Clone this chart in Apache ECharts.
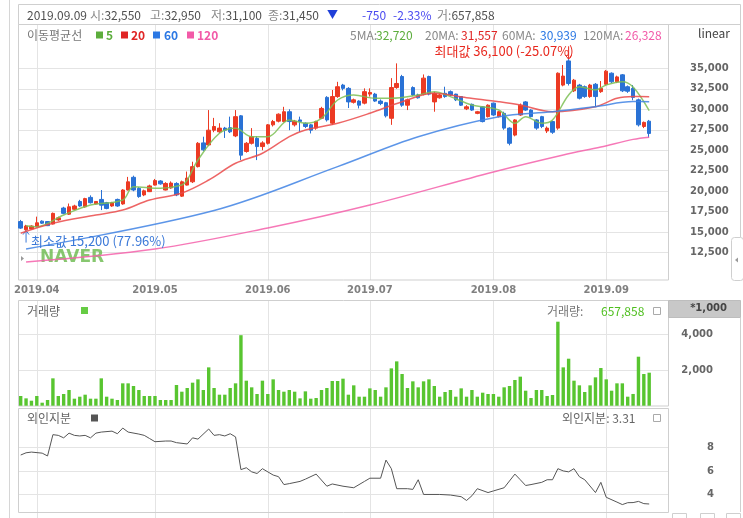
<!DOCTYPE html>
<html>
<head>
<meta charset="utf-8">
<title>NAVER 일봉 차트</title>
<script src="https://cdn.jsdelivr.net/npm/echarts@6/dist/echarts.min.js"></script>
<style>
  html, body { margin: 0; padding: 0; background: #fff; }
  #chartMain { width: 743px; height: 518px; }
</style>
</head>
<body>
<div id="chartMain"></div>
<script>
  // trading calendar
  const firstDay = '2019-03-27';
  const lastDay = '2019-09-16';
  const holidays = ['2019-05-01', '2019-05-06', '2019-06-06', '2019-08-15', '2019-09-12', '2019-09-13'];

  // daily prices (KRW), one entry per trading day
  const openPrices = [16300, 15300, 15400, 15700, 16350, 16300, 16000, 16500, 17950, 17200,
    17800, 18750, 18100, 19250, 18450, 19000, 18600, 18200, 19000, 18450,
    20150, 21700, 20350, 19550, 19950, 20750, 21250, 20150, 20400, 20950,
    19400, 20750, 21150, 23000, 25900, 25650, 27450, 27250, 27700, 27750,
    26750, 29200, 24850, 25850, 26450, 25450, 25850, 28100, 28550, 28500,
    29700, 28100, 28700, 28300, 28100, 27700, 28900, 31450, 28300, 31550,
    32950, 32550, 30850, 31000, 30750, 31850, 31850, 31000, 30800, 28900,
    32650, 34000, 30500, 32650, 31750, 31850, 34000, 30900, 31400, 31950,
    32150, 31850, 31550, 30050, 30600, 29500, 30300, 29100, 30750, 29100,
    29500, 27700, 26850, 29300, 30900, 29900, 28700, 29100, 27350, 28500,
    27700, 32950, 35900, 32250, 32950, 32750, 31550, 33050, 32150, 33050,
    34400, 33350, 34200, 32750, 32550, 31150, 27900, 28550];
  const closePrices = [15500, 15750, 15750, 16150, 16100, 15800, 17300, 16750, 17300, 18100,
    18200, 18200, 19100, 18600, 18750, 18300, 17900, 18600, 18200, 20150,
    21150, 20150, 19350, 20050, 20650, 21300, 20900, 20950, 21000, 19550,
    21150, 21600, 23000, 25850, 25050, 27450, 27900, 27700, 27450, 27250,
    29100, 24400, 25850, 26650, 25450, 25900, 28100, 28500, 29400, 29700,
    28500, 28550, 28500, 27900, 27450, 28500, 30100, 28700, 31550, 32750,
    32550, 30900, 31150, 30500, 32150, 32050, 31000, 30700, 29200, 32650,
    33150, 30500, 31150, 31750, 31400, 33800, 31850, 31950, 31750, 31550,
    31750, 31150, 30500, 30300, 29900, 29700, 28500, 30500, 29300, 29700,
    27700, 25850, 28700, 30500, 29900, 29100, 27700, 27900, 27700, 27200,
    34400, 34050, 33150, 33550, 31350, 31550, 32950, 31550, 32550, 34650,
    33350, 33950, 32250, 32200, 31450, 28100, 28400, 27050];
  const lowPrices = [15400, 15200, 15350, 15600, 16000, 15750, 15950, 16400, 17200, 17100,
    17700, 18100, 18000, 18500, 18400, 17700, 17800, 18100, 18100, 18350,
    20100, 20000, 19200, 19400, 19900, 20700, 20800, 20100, 20300, 19400,
    19300, 20700, 21000, 22900, 24900, 25500, 27200, 27100, 26500, 27100,
    26600, 23800, 24700, 25700, 23800, 25000, 25700, 27900, 28400, 28400,
    27450, 27900, 27250, 27700, 27050, 27500, 28800, 28500, 28100, 31400,
    32300, 30150, 30700, 30100, 30600, 31550, 30900, 30500, 29000, 28100,
    32500, 30300, 29900, 31600, 31300, 31700, 31700, 29700, 31300, 31400,
    31600, 31000, 30400, 29900, 29800, 29400, 28400, 29000, 29200, 29000,
    27500, 25600, 26700, 29200, 29800, 29000, 27500, 27700, 27100, 27000,
    27500, 32800, 32900, 32100, 31200, 31400, 31400, 30300, 32000, 32900,
    33200, 33200, 32100, 32000, 31100, 27900, 27700, 26550];
  const highPrices = [16500, 15900, 15850, 16900, 16450, 16350, 17400, 16900, 18100, 18500,
    18350, 18950, 19200, 19500, 18800, 20150, 18700, 18700, 19100, 20250,
    21750, 21900, 20500, 20200, 20800, 21500, 21350, 21100, 21200, 21100,
    21300, 22400, 23600, 26000, 26650, 29900, 28950, 28300, 27850, 29100,
    29900, 29300, 26000, 27700, 26700, 26100, 28200, 28700, 29500, 30300,
    30000, 28700, 29100, 28400, 28200, 28600, 30300, 31600, 32350, 33350,
    33100, 32700, 31300, 31100, 32550, 32550, 32000, 31200, 30900, 33800,
    35600, 34200, 31300, 32800, 31900, 34250, 34100, 32100, 31900, 32750,
    32300, 31900, 31600, 30500, 30700, 29800, 30400, 30600, 30800, 29800,
    29700, 27800, 28800, 30700, 31000, 30000, 28800, 29200, 27900, 28600,
    34500, 35400, 36100, 33700, 33100, 32900, 33100, 33200, 33450, 34800,
    34500, 34100, 34300, 32900, 32950, 31300, 28500, 28700];

  // 거래량, thousand shares
  const volumes = [543, 412, 280, 543, 168, 318, 1533, 543, 655, 879,
    393, 505, 617, 393, 393, 1533, 505, 393, 318, 1253,
    1253, 1103, 879, 543, 543, 543, 318, 318, 318, 1159,
    785, 991, 1290, 1477, 879, 2148, 991, 617, 617, 991,
    1253, 3950, 1402, 1029, 655, 1402, 655, 1477, 879, 785,
    879, 785, 412, 804, 393, 430, 879, 991, 1384, 1384,
    1514, 617, 1141, 505, 505, 972, 879, 505, 1029, 2092,
    2484, 1775, 991, 1365, 1029, 1365, 1477, 1103, 505, 767,
    879, 505, 972, 505, 879, 505, 729, 655, 655, 505,
    1029, 1103, 1440, 1627, 841, 430, 879, 879, 543, 599,
    4707, 2148, 2633, 1402, 1141, 767, 1141, 1589, 2111, 1477,
    841, 1253, 1253, 505, 658, 2745, 1775, 1850];

  // moving averages: [day index, price]
  const ma5 = [[1, 15800], [3, 15680], [8, 17100], [13, 18320], [19, 18930], [21, 20560], [26, 20360],
    [30, 20760], [31, 21370], [33, 23810], [37, 27070], [40, 27680], [43, 26650], [46, 26650],
    [50, 28690], [53, 28290], [56, 28900], [59, 31130], [62, 31740], [66, 31340], [69, 31340],
    [74, 31740], [77, 32150], [80, 31540], [84, 30520], [89, 29910], [92, 28290], [94, 29100],
    [97, 28290], [99, 28690], [102, 31740], [104, 32750], [107, 32350], [109, 32960], [112, 33370],
    [114, 32720], [117, 29840]];
  const ma20 = [[0, 14870], [6, 16090], [14, 17100], [19, 17710], [24, 18930], [30, 19790], [35, 21370],
    [40, 23410], [45, 24630], [50, 26660], [53, 27470], [59, 28290], [65, 29510], [71, 30920],
    [77, 31950], [83, 31410], [89, 30920], [93, 30520], [99, 29700], [107, 30320], [111, 31340],
    [114, 31557], [117, 31540]];
  const ma60 = [[1, 12960], [36, 17650], [59, 23000], [74, 26650], [89, 29100], [99, 29700],
    [107, 30320], [114, 30939], [117, 30930]];
  const ma120 = [[1, 11370], [25, 12960], [46, 15520], [65, 18320], [88, 22350], [101, 24420],
    [108, 25400], [114, 26328], [117, 26600]];

  // 외인지분 (%): [day index, value]
  const foreignShare = [[0, 7.35], [1, 7.54], [2, 7.60], [4, 7.51], [5, 7.27], [6, 9.08], [7, 9.02],
    [8, 8.81], [9, 9.21], [10, 9.02], [11, 8.97], [12, 9.02], [13, 8.81], [14, 9.21], [15, 9.30],
    [17, 9.38], [18, 9.16], [19, 9.64], [20, 9.30], [22, 9.13], [23, 9.02], [24, 8.75], [25, 8.48],
    [27, 8.54], [28, 8.54], [29, 8.40], [31, 8.29], [32, 8.81], [33, 8.70], [35, 9.56], [36, 9.02],
    [37, 9.08], [38, 8.97], [39, 9.16], [40, 8.89], [41, 6.11], [42, 6.27], [43, 5.92], [44, 5.78],
    [45, 6.19], [47, 5.65], [48, 5.51], [49, 4.84], [50, 4.92], [52, 5.11], [53, 5.30], [55, 5.73],
    [57, 4.70], [58, 4.89], [60, 4.70], [62, 4.57], [64, 5.11], [65, 5.38], [67, 5.38], [68, 6.92],
    [69, 6.19], [70, 4.49], [72, 4.49], [73, 4.43], [74, 5.25], [75, 4.00], [78, 4.00], [80, 3.95],
    [82, 3.81], [83, 3.49], [84, 3.89], [85, 4.49], [87, 4.16], [88, 4.30], [90, 4.57], [92, 5.73],
    [93, 5.25], [94, 4.76], [95, 4.84], [97, 5.03], [98, 5.25], [99, 5.25], [100, 6.19], [101, 6.00],
    [102, 5.92], [103, 6.19], [104, 5.51], [105, 5.25], [107, 4.16], [108, 5.03], [109, 3.76],
    [111, 3.35], [112, 3.14], [113, 3.30], [114, 3.31], [115, 3.41], [116, 3.22], [117, 3.19]];

  function buildTradingDays(from, to, skip) {
    const out = [];
    const d = new Date(from + 'T00:00:00Z');
    const end = new Date(to + 'T00:00:00Z');
    while (d <= end) {
      const iso = d.toISOString().slice(0, 10);
      const wd = d.getUTCDay();
      if (wd !== 0 && wd !== 6 && skip.indexOf(iso) < 0) out.push(iso);
      d.setUTCDate(d.getUTCDate() + 1);
    }
    return out;
  }
  const tradeDates = buildTradingDays(firstDay, lastDay, holidays);
  const categories = tradeDates.concat(['', '', '']);

  function isMonthStart(idx) {
    if (idx <= 0 || idx >= tradeDates.length) return false;
    return tradeDates[idx].slice(5, 7) !== tradeDates[idx - 1].slice(5, 7);
  }

  const KR = "'Noto Sans CJK KR', 'Noto Sans', sans-serif";
  const AX = "'DejaVu Sans', sans-serif";
  const GRIDC = '#e4e4e4';
  const CLEAR = 'rgba(0,0,0,0)';
  const RED = '#ec3a23', BLUE = '#2a72d5';

  function catAxis(gridIndex, extra) {
    return Object.assign({
      type: 'category', gridIndex: gridIndex, data: categories, boundaryGap: true,
      axisLine: {show: false}, axisTick: {show: false}, axisLabel: {show: false},
      splitLine: {show: true, interval: isMonthStart, alignWithLabel: true, lineStyle: {color: GRIDC, width: 1}}
    }, extra || {});
  }

  const candleData = tradeDates.map(function (d, j) {
    return [openPrices[j], closePrices[j], lowPrices[j], highPrices[j]];
  });

  function maSeries(name, data, color) {
    return {
      name: name, type: 'line', xAxisIndex: 1, yAxisIndex: 1, data: data,
      showSymbol: false, smooth: 0.35, z: 3, silent: true,
      lineStyle: {color: color, width: 1.5, opacity: 0.85}
    };
  }

  const chart = echarts.init(document.getElementById('chartMain'));
  chart.setOption({
    animation: false,
    grid: [
      {left: 18, width: 650, top: 24, height: 256},
      {left: 18, width: 650, top: 47.8, height: 225.4},
      {left: 18, width: 650, top: 300, height: 105.7},
      {left: 18, width: 650, top: 409, height: 114.4}
    ],
    xAxis: [
      catAxis(0, {
        axisLabel: {
          show: true, interval: isMonthStart, margin: 5, color: '#808080',
          fontFamily: AX, fontWeight: 'bold', fontSize: 10,
          formatter: function (v) { return v.slice(0, 4) + '.' + v.slice(5, 7); }
        }
      }),
      catAxis(1, {splitLine: {show: false}}),
      catAxis(2),
      catAxis(3)
    ],
    yAxis: [
      {type: 'value', gridIndex: 0, min: 0, max: 1, show: false},
      {
        type: 'value', gridIndex: 1, position: 'right', min: 10000, max: 37500, interval: 2500,
        axisLine: {show: false}, axisTick: {show: false},
        axisLabel: {
          margin: 22, align: 'left', verticalAlign: 'middle', padding: [7, 0, 0, 0],
          color: '#666', fontFamily: AX, fontWeight: 'bold', fontSize: 10,
          formatter: function (v) { return (v > 10000 && v < 37500) ? v.toLocaleString('en-US') : ''; }
        },
        splitLine: {lineStyle: {color: [CLEAR, GRIDC, GRIDC, GRIDC, GRIDC, GRIDC, GRIDC, GRIDC, GRIDC, GRIDC, GRIDC, CLEAR]}}
      },
      {
        type: 'value', gridIndex: 2, position: 'right', min: 0, max: 5922, interval: 2000,
        axisLine: {show: false}, axisTick: {show: false},
        axisLabel: {
          margin: 45, align: 'right', verticalAlign: 'middle', padding: [7, 0, 0, 0],
          color: '#666', fontFamily: AX, fontWeight: 'bold', fontSize: 10,
          formatter: function (v) { return (v > 0 && v < 5000) ? v.toLocaleString('en-US') : ''; }
        },
        splitLine: {lineStyle: {color: [CLEAR, GRIDC, GRIDC, CLEAR]}}
      },
      {
        type: 'value', gridIndex: 3, position: 'right', min: 2, max: 11.26, interval: 2,
        axisLine: {show: false}, axisTick: {show: false},
        axisLabel: {
          margin: 46, align: 'right', verticalAlign: 'middle', padding: [7, 0, 0, 0],
          color: '#666', fontFamily: AX, fontWeight: 'bold', fontSize: 10,
          formatter: function (v) { return (v >= 4 && v <= 8) ? String(v) : ''; }
        },
        splitLine: {lineStyle: {color: [GRIDC, GRIDC, GRIDC, GRIDC, CLEAR, CLEAR]}}
      }
    ],
    series: [
      {
        name: 'price', type: 'candlestick', xAxisIndex: 1, yAxisIndex: 1, data: candleData,
        barWidth: 4, silent: true,
        itemStyle: {color: RED, color0: BLUE, borderColor: RED, borderColor0: BLUE, borderWidth: 1}
      },
      maSeries('5', ma5, '#7dbf55'),
      maSeries('20', ma20, '#ea4a4a'),
      maSeries('60', ma60, '#3f82e4'),
      maSeries('120', ma120, '#f460aa'),
      {
        name: '거래량', type: 'bar', xAxisIndex: 2, yAxisIndex: 2, data: volumes,
        barWidth: 3.4, silent: true, itemStyle: {color: '#58c530'}
      },
      {
        name: '외인지분', type: 'line', xAxisIndex: 3, yAxisIndex: 3, data: foreignShare,
        showSymbol: false, silent: true, lineStyle: {color: '#555', width: 1}
      }
    ]
  });

  // annotations positioned from the data through the axes
  const lastClose = closePrices[closePrices.length - 1];
  const maxJ = highPrices.indexOf(Math.max.apply(null, highPrices));
  const minJ = lowPrices.indexOf(Math.min.apply(null, lowPrices));
  const pMax = chart.convertToPixel({gridIndex: 1}, [tradeDates[maxJ], highPrices[maxJ]]);
  const pMin = chart.convertToPixel({gridIndex: 1}, [tradeDates[minJ], lowPrices[minJ]]);
  const maxPct = ((lastClose / highPrices[maxJ] - 1) * 100).toFixed(2);
  const minPct = ((lastClose / lowPrices[minJ] - 1) * 100).toFixed(2);

  function txt(text, x, y, color, font, align) {
    return {type: 'text', x: x, y: y, silent: true, z: 100,
      style: {text: text, fill: color, font: font, textAlign: align || 'left', textVerticalAlign: 'middle'}};
  }
  function kv(k, v, x, y) {
    return {type: 'text', x: x, y: y, silent: true, z: 100,
      style: {text: '{k|' + k + '}{v|' + v + '}', textVerticalAlign: 'middle',
        rich: {k: {fill: '#888', font: '12px ' + KR}, v: {fill: '#505050', font: '12px ' + KR}}}};
  }
  function box(x, y, w, h, fill, stroke) {
    return {type: 'rect', silent: true, z: 1, shape: {x: x, y: y, width: w, height: h},
      style: {fill: fill || 'none', stroke: stroke || '#cfcfcf', lineWidth: 1}};
  }
  function sq(x, y, color) {
    return {type: 'rect', silent: true, z: 100, shape: {x: x, y: y, width: 7, height: 7}, style: {fill: color}};
  }
  function arrow(x, y0, y1, color) {
    const dir = y1 > y0 ? -1 : 1;
    return {type: 'group', silent: true, z: 100, children: [
      {type: 'line', shape: {x1: x, y1: y0, x2: x, y2: y1}, style: {stroke: color, lineWidth: 1}},
      {type: 'polyline', shape: {points: [[x - 3, y1 + dir * 4], [x, y1], [x + 3, y1 + dir * 4]]},
        style: {stroke: color, lineWidth: 1, fill: 'none'}}
    ]};
  }

  const graphics = [
    // frames
    {type: 'line', silent: true, shape: {x1: 9.5, y1: 0, x2: 9.5, y2: 518}, style: {stroke: '#d6d6d6'}},
    box(18.5, 4.5, 722, 20),
    box(18.5, 24.5, 650, 255.5),
    {type: 'line', silent: true, shape: {x1: 740.5, y1: 24, x2: 740.5, y2: 237}, style: {stroke: '#cfcfcf'}},
    {type: 'rect', silent: true, z: 2, shape: {x: 731.5, y: 237.5, width: 12, height: 43, r: 3},
      style: {fill: '#fff', stroke: '#cfcfcf'}},
    {type: 'polygon', silent: true, z: 3, shape: {points: [[735, 260], [738, 257.5], [738, 262.5]]}, style: {fill: '#999'}},
    box(18.5, 300.5, 650, 105.5),
    box(18.5, 408.5, 650, 104),
    box(668.5, 300.5, 72, 17, '#c8c8c8', '#bdbdbd'),
    {type: 'line', silent: true, shape: {x1: 740.5, y1: 318, x2: 740.5, y2: 512}, style: {stroke: '#cfcfcf'}},
    box(672.5, 513.5, 14, 8), box(700.5, 513.5, 14, 8), box(726.5, 513.5, 14, 8),

    // header
    txt('2019.09.09', 27, 15, '#505050', '12px ' + KR),
    kv('시:', '32,550', 90, 15),
    kv('고:', '32,950', 150, 15),
    kv('저:', '31,100', 211, 15),
    kv('종:', '31,450', 268, 15),
    txt('▼', 327, 15, '#1f3fd8', '11px ' + KR),
    txt('-750', 362, 15, '#4a4af0', '12px ' + KR),
    txt('-2.33%', 393, 15, '#4a4af0', '12px ' + KR),
    kv('거:', '657,858', 437, 15),

    // legend row
    txt('이동평균선', 27, 35, '#777', '12px ' + KR),
    sq(96, 31.5, '#5cad3c'), txt('5', 106, 35, '#5cad3c', 'bold 12px ' + KR),
    sq(121, 31.5, '#e02525'), txt('20', 131, 35, '#e02525', 'bold 12px ' + KR),
    sq(153, 31.5, '#2b78e4'), txt('60', 164, 35, '#2b78e4', 'bold 12px ' + KR),
    sq(187, 31.5, '#f25aa8'), txt('120', 197, 35, '#f25aa8', 'bold 12px ' + KR),
    txt('5MA:', 350, 35, '#888', '12px ' + KR), txt('32,720', 376, 35, '#5cad3c', '12px ' + KR),
    txt('20MA:', 425, 35, '#888', '12px ' + KR), txt('31,557', 461, 35, '#e02525', '12px ' + KR),
    txt('60MA:', 502, 35, '#888', '12px ' + KR), txt('30,939', 540, 35, '#2b78e4', '12px ' + KR),
    txt('120MA:', 583, 35, '#888', '12px ' + KR), txt('26,328', 625, 35, '#f25aa8', '12px ' + KR),
    txt('linear', 714, 33, '#444', '12px ' + KR, 'center'),

    // watermark
    {type: 'text', x: 40, y: 258, silent: true, z: 0,
      style: {text: 'NAVER', fill: 'rgba(105, 185, 75, 0.8)', font: "bold 17px 'DejaVu Sans', sans-serif",
        textVerticalAlign: 'middle'}},
    {type: 'polygon', silent: true, shape: {points: [[21, 256], [24, 258.5], [21, 261]]}, style: {fill: '#999'}},

    // max / min markers
    arrow(pMax[0], pMax[1] - 13, pMax[1], '#e8281e'),
    txt('최대값 ' + highPrices[maxJ].toLocaleString('en-US') + ' (' + maxPct + '%)', pMax[0] + 5, pMax[1] - 8,
      '#e8281e', '13px ' + KR, 'right'),
    arrow(pMin[0], pMin[1] + 12, pMin[1], '#3a78d8'),
    txt('최소값 ' + lowPrices[minJ].toLocaleString('en-US') + ' (' + minPct + '%)', pMin[0] + 5, pMin[1] + 10.5,
      '#3a78d8', '13px ' + KR),

    // volume panel
    txt('거래량', 27, 311, '#666', '12px ' + KR),
    sq(81, 307, '#66cc44'),
    txt('거래량:', 547, 311, '#777', '12px ' + KR),
    txt('657,858', 601, 311, '#4fbf1f', '12px ' + KR),
    box(653.5, 307.5, 7, 7, '#fff', '#aaa'),
    txt('*1,000', 727, 308.5, '#444', 'bold 10px ' + AX, 'right'),

    // foreign panel
    txt('외인지분', 27, 418, '#666', '12px ' + KR),
    sq(91, 414.5, '#555'),
    txt('외인지분: 3.31', 562, 418, '#666', '12px ' + KR),
    box(653.5, 414.5, 7, 7, '#fff', '#aaa')
  ];
  chart.setOption({graphic: graphics});
</script>
</body>
</html>
